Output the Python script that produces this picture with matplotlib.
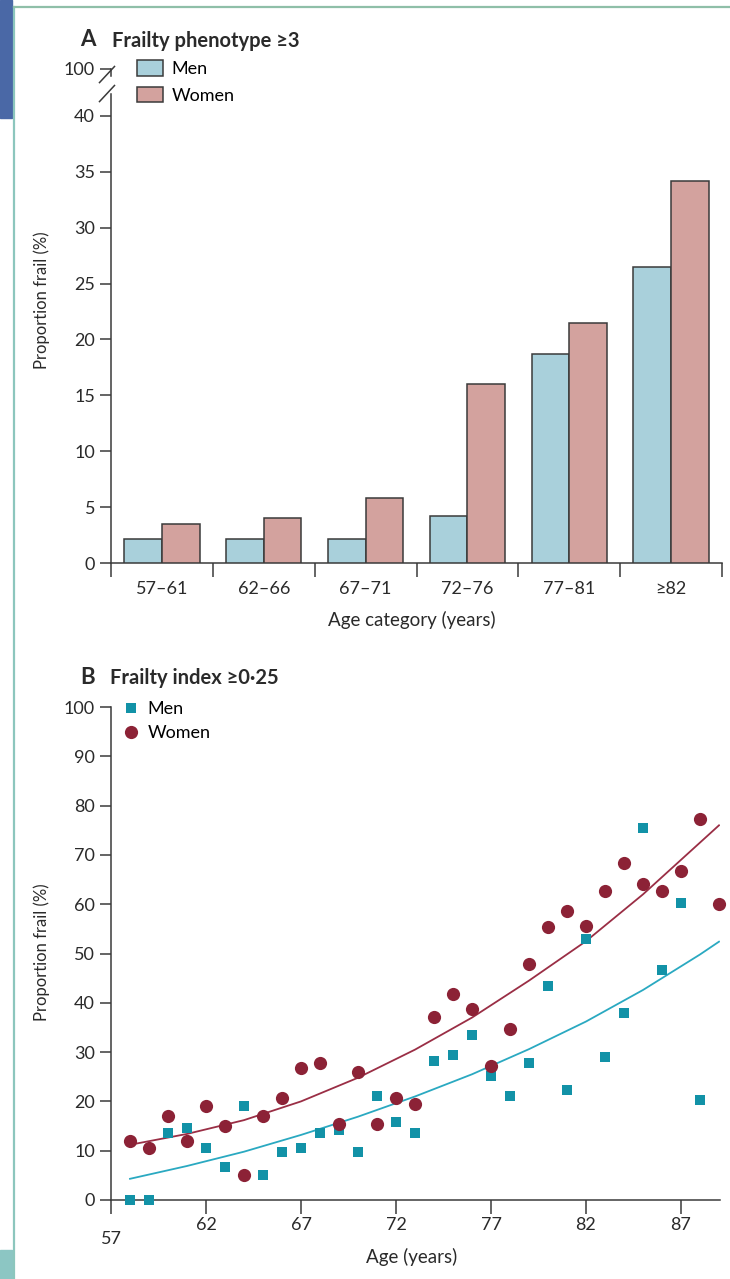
import matplotlib
matplotlib.use("Agg")
import matplotlib.pyplot as plt
from matplotlib.patches import Patch, Rectangle
from matplotlib.lines import Line2D

plt.rcParams['font.family'] = ['Lato', 'DejaVu Sans']

# ---------------- data ----------------
age_categories = ["57–61", "62–66", "67–71", "72–76", "77–81", "≥82"]
men_pheno = [2.15, 2.15, 2.15, 4.2, 18.7, 26.5]
women_pheno = [3.5, 4.0, 5.8, 16.0, 21.5, 34.2]

men_age = [58, 59, 60, 61, 62, 63, 64, 65, 66, 67, 68, 69, 70, 71, 72, 73, 74,
           75, 76, 77, 78, 79, 80, 81, 82, 83, 84, 85, 86, 87, 88]
men_index = [0, 0, 13.5, 14.6, 10.5, 6.7, 19.0, 5.0, 9.7, 10.5, 13.5, 14.2, 9.7,
             21.0, 15.8, 13.6, 28.2, 29.4, 33.5, 25.2, 21.0, 27.8, 43.4, 22.4,
             53.0, 29.0, 38.0, 75.5, 46.7, 60.3, 20.3]

women_age = [58, 59, 60, 61, 62, 63, 64, 65, 66, 67, 68, 69, 70, 71, 72, 73, 74,
             75, 76, 77, 78, 79, 80, 81, 82, 83, 84, 85, 86, 87, 88, 89]
women_index = [12.0, 10.5, 17.0, 12.0, 19.0, 15.0, 5.1, 17.0, 20.7, 26.8, 27.8,
               15.4, 26.0, 15.4, 20.7, 19.5, 37.1, 41.8, 38.8, 27.2, 34.7, 47.9,
               55.4, 58.6, 55.6, 62.7, 68.4, 64.0, 62.7, 66.8, 77.2, 60.0]

fit_age = [58, 61, 64, 67, 70, 73, 76, 79, 82, 85, 88, 89]
men_fit = [4.3, 6.9, 9.8, 13.2, 16.9, 21.0, 25.5, 30.6, 36.2, 42.6, 49.8, 52.4]
women_fit = [11.2, 13.4, 16.2, 20.0, 24.8, 30.5, 37.0, 44.5, 52.5, 62.0, 72.5, 76.0]

yticks_a = [0, 5, 10, 15, 20, 25, 30, 35, 40]
yticks_b = [0, 10, 20, 30, 40, 50, 60, 70, 80, 90, 100]
xticks_b = [57, 62, 67, 72, 77, 82, 87]

# ---------------- style ----------------
W, H = 730, 1279
MEN_BAR = "#a9d0db"
WOMEN_BAR = "#d3a29e"
MEN_PT = "#1292a7"
WOMEN_PT = "#8c2236"
MEN_LINE = "#2aa9c1"
WOMEN_LINE = "#9a2e45"
AX = "#3a3a3a"
TXT = "#2a2a2a"
FS = 13

fig = plt.figure(figsize=(W / 100, H / 100), dpi=100)
fig.patch.set_facecolor("white")


def fx(x):
    return x / W


def fy(y):
    return 1 - y / H


# page decorations
fig.patches.append(Rectangle((0, fy(118)), fx(12), 118 / H, transform=fig.transFigure,
                             color="#4a68a6", zorder=0))
fig.patches.append(Rectangle((0, 0), fx(12), 29 / H, transform=fig.transFigure,
                             color="#8cc6c3", zorder=0))
fig.lines.append(Line2D([fx(14), fx(14)], [0, fy(7)], transform=fig.transFigure,
                        color="#8cc6bd", lw=1.6))
fig.lines.append(Line2D([fx(14), 1], [fy(7), fy(7)], transform=fig.transFigure,
                        color="#8fbfa8", lw=1.6))


def style_axes(ax):
    for s in ["top", "right"]:
        ax.spines[s].set_visible(False)
    for s in ["left", "bottom"]:
        ax.spines[s].set_color(AX)
        ax.spines[s].set_linewidth(1.1)
    ax.tick_params(colors=AX, labelcolor=TXT, labelsize=FS, width=1.1, length=8,
                   direction="out")


# ---------------- Panel A ----------------
axA = fig.add_axes([fx(111), fy(563), 611 / W, 503 / H])
style_axes(axA)
n = len(age_categories)
xs = list(range(n))
bw = 0.37
axA.bar([x - bw / 2 for x in xs], men_pheno, width=bw, color=MEN_BAR,
        edgecolor=AX, linewidth=1.1, label="Men", zorder=3)
axA.bar([x + bw / 2 for x in xs], women_pheno, width=bw, color=WOMEN_BAR,
        edgecolor=AX, linewidth=1.1, label="Women", zorder=3)
axA.set_xlim(-0.5, n - 0.5)
axA.set_ylim(0, 45)
top_tick = 44.2
axA.set_yticks(yticks_a + [top_tick])
axA.set_yticklabels([str(v) for v in yticks_a] + ["100"])
axA.set_xticks([x + 0.5 for x in [-1] + xs])
axA.set_xticklabels([])
axA.set_xticks(xs, minor=True)
axA.set_xticklabels(age_categories, minor=True)
axA.tick_params(axis="x", which="minor", length=0, pad=13, labelsize=FS, labelcolor=TXT)
axA.tick_params(axis="x", which="major", length=10)
axA.spines["left"].set_bounds(0, 42.0)
# broken-axis marks
axA.plot([-0.5, -0.5], [43.6, top_tick], color=AX, lw=1.1, clip_on=False)
dx = 7.5 / 101.8
dy = 0.72
off = 4 / 101.8
for yc in (43.7, 42.0):
    axA.plot([-0.5 - off - dx, -0.5 - off + dx], [yc - dy, yc + dy], color=AX,
             lw=1.1, clip_on=False)
axA.legend(handles=[Patch(facecolor=MEN_BAR, edgecolor=AX, linewidth=1.1, label="Men"),
                    Patch(facecolor=WOMEN_BAR, edgecolor=AX, linewidth=1.1, label="Women")],
           loc="upper left", bbox_to_anchor=(fx(137), fy(60)),
           bbox_transform=fig.transFigure, frameon=False, fontsize=13,
           handlelength=1.45, handleheight=0.95, labelspacing=0.55, handletextpad=0.45,
           borderaxespad=0, borderpad=0)

fig.text(fx(80), fy(40), "A", fontsize=16, fontweight="bold", color=TXT, va="center")
fig.text(fx(112), fy(41), "Frailty phenotype ≥3", fontsize=14.5, fontweight="bold",
         color=TXT, va="center")
fig.text(fx(42), fy(300), "Proportion frail (%)", rotation=90, fontsize=12,
         color=TXT, ha="center", va="center")
fig.text(fx(412), fy(620), "Age category (years)", fontsize=13.5, color=TXT,
         ha="center", va="center")

# ---------------- Panel B ----------------
axB = fig.add_axes([fx(111), fy(1200), 609 / W, 493 / H])
style_axes(axB)
axB.set_xlim(57, 57 + 609 / 19)
axB.set_ylim(0, 100)
axB.set_yticks(yticks_b)
axB.set_xticks(xticks_b)
axB.tick_params(axis="x", length=10, pad=2)
axB.xaxis.get_major_ticks()[0].set_pad(12)
axB.plot(fit_age, men_fit, color=MEN_LINE, lw=1.3, zorder=2)
axB.plot(fit_age, women_fit, color=WOMEN_LINE, lw=1.3, zorder=2)
axB.plot(men_age, men_index, linestyle="none", marker="s", markersize=7.6,
         color=MEN_PT, markeredgewidth=0, label="Men", clip_on=False, zorder=4)
axB.plot(women_age, women_index, linestyle="none", marker="o", markersize=9.5,
         color=WOMEN_PT, markeredgewidth=0, label="Women", clip_on=False, zorder=4)
axB.legend(loc="upper left", bbox_to_anchor=(fx(124), fy(701)),
           bbox_transform=fig.transFigure, frameon=False, fontsize=13,
           handlelength=0.8, labelspacing=0.45, handletextpad=0.5,
           borderaxespad=0, borderpad=0)

fig.text(fx(80), fy(677), "B", fontsize=16, fontweight="bold", color=TXT, va="center")
fig.text(fx(110), fy(678), "Frailty index ≥0·25", fontsize=14.5, fontweight="bold",
         color=TXT, va="center")
fig.text(fx(42), fy(952), "Proportion frail (%)", rotation=90, fontsize=12,
         color=TXT, ha="center", va="center")
fig.text(fx(412), fy(1257), "Age (years)", fontsize=13.5, color=TXT,
         ha="center", va="center")

fig.savefig("out.png", dpi=100, facecolor="white")
